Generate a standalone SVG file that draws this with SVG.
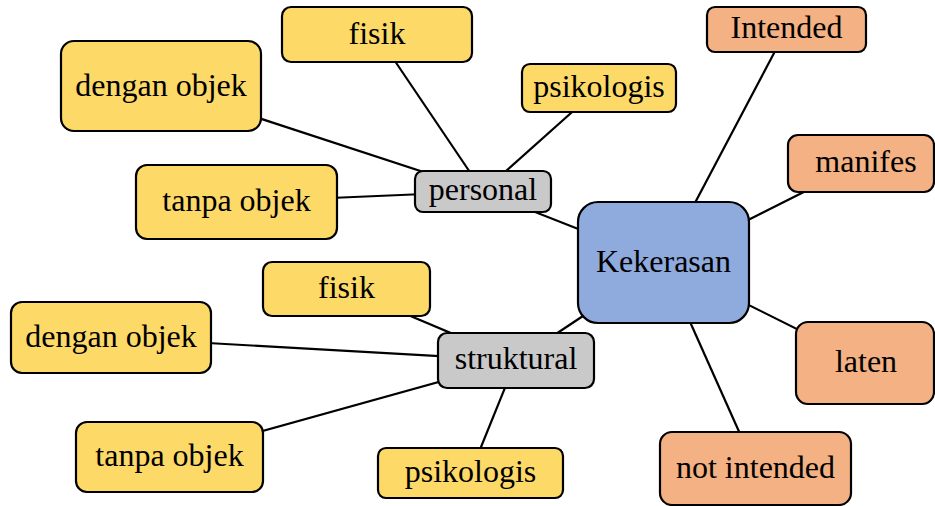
<svg xmlns="http://www.w3.org/2000/svg" width="935" height="506" viewBox="0 0 935 506">
<style>
.n rect{stroke:#000;stroke-width:2.2}
.y rect{fill:#FDD968}
.o rect{fill:#F4B183}
.g rect{fill:#C9C9C9}
.b rect{fill:#8FAADC}
text{font-family:"Liberation Serif","Times New Roman",serif;font-size:32px;fill:#000;text-anchor:middle}
#edges line{stroke:#000;stroke-width:2.2}
</style>
<rect width="935" height="506" fill="#fff"/>
<g id="edges">
<line x1="161" y1="86" x2="483" y2="191.5"/>
<line x1="377" y1="34.5" x2="483" y2="191.5"/>
<line x1="599" y1="88" x2="483" y2="191.5"/>
<line x1="236.5" y1="202" x2="483" y2="191.5"/>
<line x1="483" y1="191.5" x2="663.5" y2="262.5"/>
<line x1="663.5" y1="262.5" x2="786.5" y2="29.5"/>
<line x1="663.5" y1="262.5" x2="860.5" y2="163.5"/>
<line x1="663.5" y1="262.5" x2="865" y2="363"/>
<line x1="663.5" y1="262.5" x2="755.5" y2="468.5"/>
<line x1="663.5" y1="262.5" x2="516" y2="360.5"/>
<line x1="516" y1="360.5" x2="346.5" y2="289"/>
<line x1="516" y1="360.5" x2="111" y2="337.5"/>
<line x1="516" y1="360.5" x2="169.5" y2="457"/>
<line x1="516" y1="360.5" x2="470.5" y2="473"/>
</g>
<g id="kekerasan" class="n b"><rect x="578" y="202" width="171" height="121" rx="20"/><text x="663.5" y="271.5">Kekerasan</text></g>
<g id="personal" class="n g"><rect x="415" y="171" width="136" height="41" rx="8"/><text x="483" y="200">personal</text></g>
<g id="struktural" class="n g"><rect x="438" y="333" width="156" height="55" rx="9"/><text x="516" y="368.5">struktural</text></g>
<g id="p-dengan" class="n y"><rect x="61" y="41" width="200" height="90" rx="13"/><text x="161" y="96">dengan objek</text></g>
<g id="p-tanpa" class="n y"><rect x="136" y="165" width="201" height="74" rx="11"/><text x="236.5" y="211">tanpa objek</text></g>
<g id="p-fisik" class="n y"><rect x="282" y="7" width="190" height="55" rx="9"/><text x="377" y="43.5">fisik</text></g>
<g id="p-psikologis" class="n y"><rect x="522" y="64" width="154" height="48" rx="8"/><text x="599" y="97">psikologis</text></g>
<g id="s-fisik" class="n y"><rect x="263" y="262" width="167" height="54" rx="9"/><text x="346.5" y="298">fisik</text></g>
<g id="s-dengan" class="n y"><rect x="11" y="302" width="200" height="71" rx="11"/><text x="111" y="346.5">dengan objek</text></g>
<g id="s-tanpa" class="n y"><rect x="76" y="422" width="187" height="70" rx="11"/><text x="169.5" y="466">tanpa objek</text></g>
<g id="s-psikologis" class="n y"><rect x="378" y="448" width="185" height="50" rx="8"/><text x="470.5" y="482">psikologis</text></g>
<g id="intended" class="n o"><rect x="707" y="7" width="159" height="45" rx="8"/><text x="786.5" y="37.5">Intended</text></g>
<g id="manifes" class="n o"><rect x="788" y="135" width="146" height="57" rx="10"/><text x="866" y="172">manifes</text></g>
<g id="laten" class="n o"><rect x="796" y="322" width="138" height="82" rx="12"/><text x="866" y="372">laten</text></g>
<g id="not-intended" class="n o"><rect x="660" y="432" width="191" height="73" rx="12"/><text x="755.5" y="477.5">not intended</text></g>
</svg>
